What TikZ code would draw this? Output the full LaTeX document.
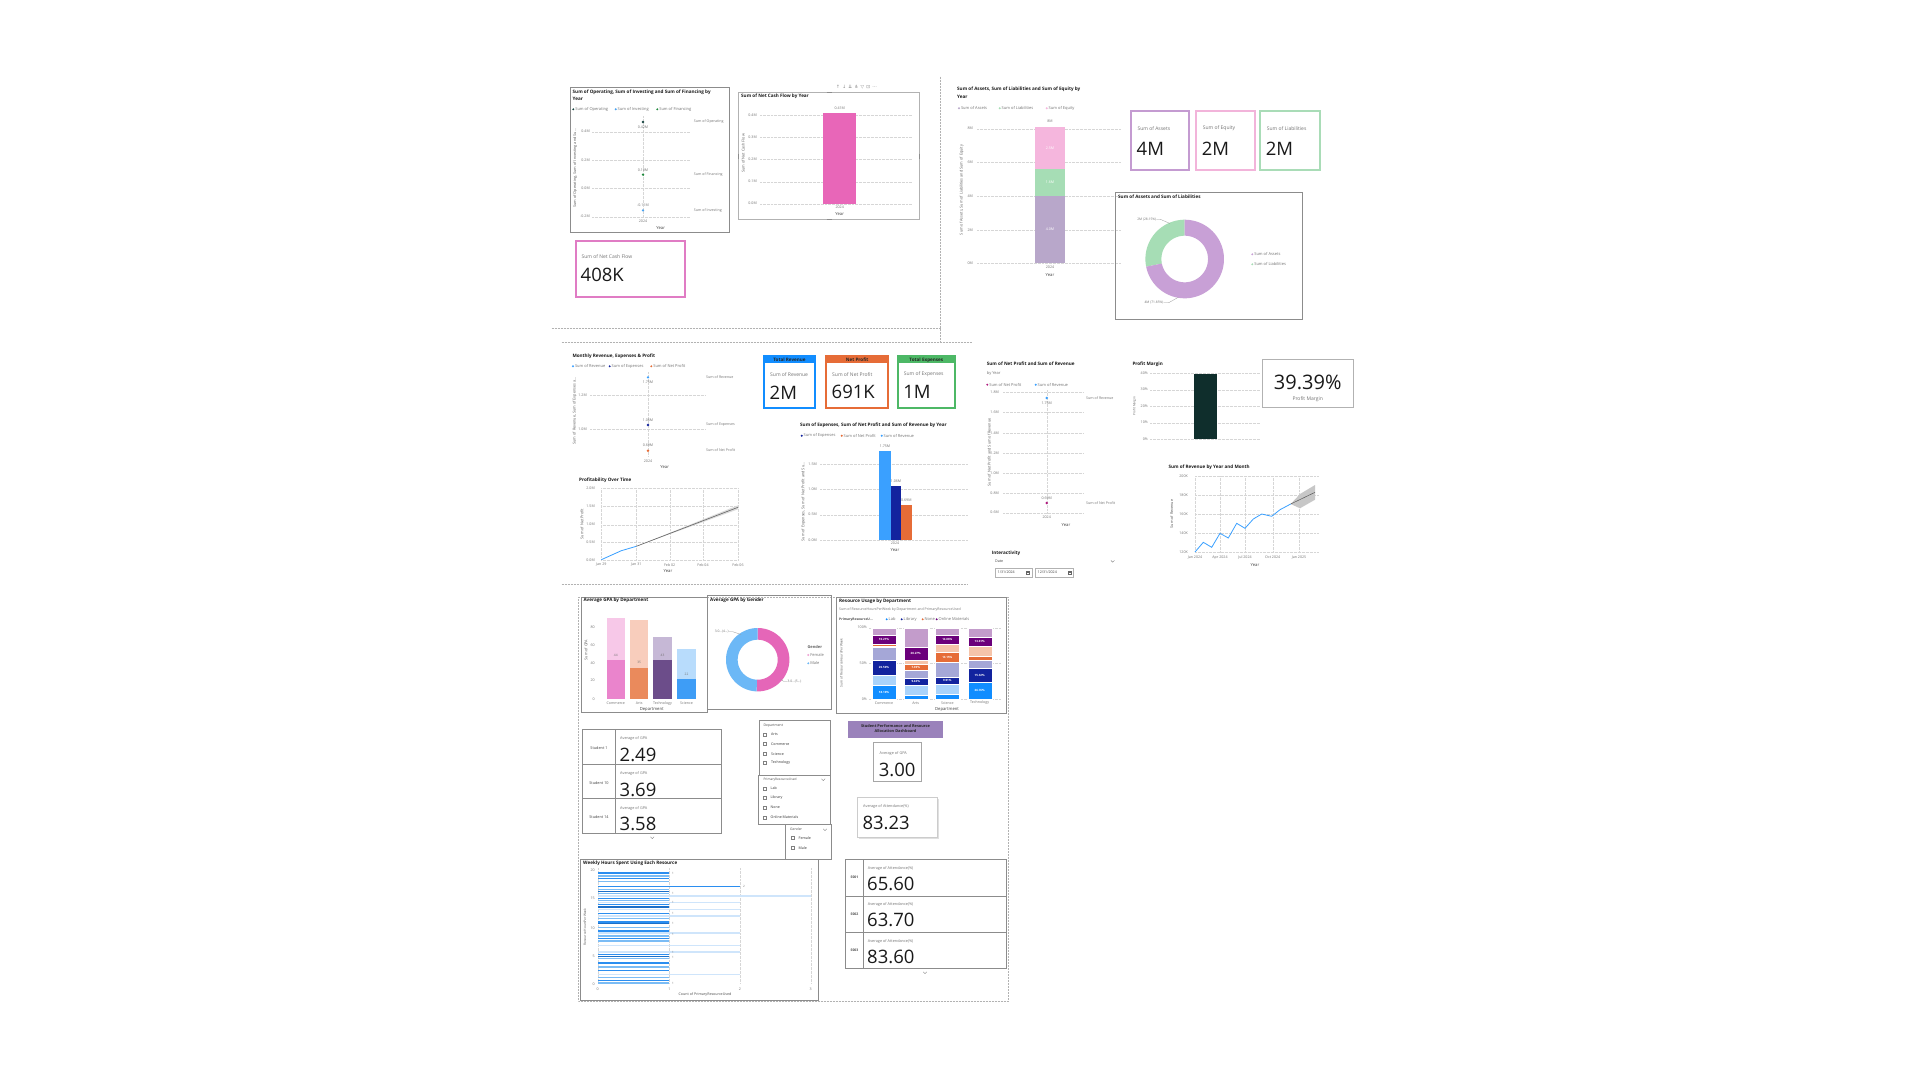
\documentclass[tikz,border=0pt]{standalone}
\usepackage{fontspec}
\setmainfont{Open Sans}
\newfontfamily\symfont{DejaVu Sans}
\usetikzlibrary{positioning}
\definecolor{opcol}{HTML}{17443F}
\definecolor{invcol}{HTML}{4AA3F0}
\definecolor{fincol}{HTML}{1E8A3C}
\definecolor{ncf}{HTML}{E866B8}
\definecolor{pinkcard}{HTML}{E07CC4}
\definecolor{assets}{HTML}{B8A7CA}
\definecolor{liab}{HTML}{A6DDB5}
\definecolor{equity}{HTML}{F5B6DD}
\definecolor{asscard}{HTML}{C49BD1}
\definecolor{eqcard}{HTML}{F2B4DA}
\definecolor{liabcard}{HTML}{A9DCB7}
\definecolor{donutA}{HTML}{C8A0D6}
\definecolor{rev}{HTML}{3AA0FF}
\definecolor{blu}{HTML}{118DFF}
\definecolor{lblu}{HTML}{A9D3FB}
\definecolor{nav}{HTML}{12239E}
\definecolor{lav}{HTML}{A5A7D7}
\definecolor{org}{HTML}{E66C37}
\definecolor{lorg}{HTML}{F5C4AA}
\definecolor{pur}{HTML}{6B007B}
\definecolor{lpur}{HTML}{C39CCB}
\definecolor{grn}{HTML}{4DB866}
\definecolor{npmag}{HTML}{B0197E}
\definecolor{pm}{HTML}{0F2E2C}
\definecolor{comL}{HTML}{F7C8E8}
\definecolor{comD}{HTML}{EA84CC}
\definecolor{artL}{HTML}{F8CDBC}
\definecolor{artD}{HTML}{EA8A5C}
\definecolor{tecL}{HTML}{C6B8D6}
\definecolor{tecD}{HTML}{6C4D8A}
\definecolor{sciL}{HTML}{B8DCFC}
\definecolor{sciD}{HTML}{3E9DF6}
\definecolor{female}{HTML}{E566B8}
\definecolor{male}{HTML}{6CB8F6}
\definecolor{banner}{HTML}{9A82BB}
\definecolor{wa}{HTML}{2B8EF0}
\definecolor{wb}{HTML}{7BBCF5}
\definecolor{wc}{HTML}{CFE5FB}
\definecolor{wd}{HTML}{1A6FC9}
\newcommand\fs[1]{\fontsize{#1}{#1}\selectfont}
\tikzset{
  ttl/.style={anchor=west, inner sep=0, font=\fs{4.6}\bfseries, text=black!90},
  txt/.style={inner sep=0, font=\fs{3.6}, text=black!55},
  tck/.style={txt, anchor=east},
  ytl/.style={txt, rotate=90, font=\fs{3.8}, text=black!65},
  xlab/.style={inner sep=0, font=\fs{4.2}, text=black!75},
  lab/.style={anchor=west, inner sep=0, font=\fs{5}, text=black!55},
  val/.style={anchor=west, inner sep=0, font=\fs{18.5}, text=black!90},
  wlab/.style={inner sep=0, font=\fs{2.9}\bfseries, text=white},
  gridln/.style={black!16, densely dotted, line width=0.35},
  pane/.style={draw=black!45, line width=0.7},
  sep/.style={black!30, densely dotted, line width=0.5},
  chk/.style={draw=black!50, line width=0.35},
}
\newcommand\lgd[5]{\fill[#4] (#2,#3) circle (1.1);
  \node[txt, anchor=west, font=\fs{4}] (#1) at (#2+1.8,#3) {#5};}
\newcommand\chev[2]{\draw[black!50, line width=0.4] (#1-1.8,#2-0.9) -- (#1,#2+0.9) -- (#1+1.8,#2-0.9);}
\begin{document}
\begin{tikzpicture}[x=1pt,y=-1pt]
\fill[white] (0,0) rectangle (1920,1080);
\useasboundingbox (0,0) rectangle (1920,1080);

\draw[sep] (551.7,328.3) -- (940.7,328.3);
\draw[sep] (940.7,76.7) -- (940.7,342.3);
\draw[sep] (561.7,342.3) -- (972,342.3);
\draw[sep] (561.7,584.3) -- (968,584.3);
\draw[sep] (578,597.3) rectangle (1008,1001.3);

% cash flow by activity
\draw[pane] (570.3,87.3) rectangle (729.7,232.7);
\node[ttl] (opsT) at (572.5,92.7) {Sum of Operating, Sum of Investing and Sum of Financing by};
\node[ttl] (opsT2) at (572.5,98.7) {Year};
\lgd{opsG1}{573.3}{109.3}{opcol}{Sum of Operating}
\lgd{opsG2}{615.7}{109.3}{invcol}{Sum of Investing}
\lgd{opsG3}{657.3}{109.3}{fincol}{Sum of Financing}
\foreach \v/\y [count=\i] in {0.4M/131.7,0.2M/160,0.0M/188.3,-0.2M/216.7}{
  \node[tck] (opsY\i) at (590,\y) {\v};
  \draw[gridln] (592,\y) -- (690,\y);}
\draw[gridln] (643,116) -- (643,218);
\fill[opcol] (643,122) circle (1.3);
\fill[fincol] (643,174.7) circle (1.3);
\fill[invcol] (643,210.3) circle (1.3);
\node[txt] (opsV1) at (643,127.3) {0.42M};
\node[txt] (opsV2) at (643,170) {0.10M};
\node[txt] (opsV3) at (643,205.3) {-0.11M};
\node[txt,anchor=west] (opsR1) at (693.7,122) {Sum of Operating};
\node[txt,anchor=west] (opsR2) at (693.7,174.7) {Sum of Financing};
\node[txt,anchor=west] (opsR3) at (693.7,210.3) {Sum of Investing};
\node[txt] (opsX) at (643,221.3) {2024};
\node[xlab] (opsXT) at (660.7,227.7) {Year};
\node[ytl] (opsA) at (575,168.3) {Sum of Operating, Sum of Investing and Su...};

% net cash flow
\draw[draw=black!30, line width=0.6] (738.7,92.7) rectangle (919.7,219.3);
\foreach \p/\q [count=\i] in {738.7/156,919.7/156}{
  \draw[black!45, line width=1.2] (\p,\q-2.5) -- (\p,\q+2.5);}
\foreach \p/\q [count=\i] in {829/92.7,829/219.3}{
  \draw[black!45, line width=1.2] (\p-2.5,\q) -- (\p+2.5,\q);}
\node[inner sep=0, font=\symfont\fs{4.6}, text=black!45, anchor=west] (ncfI) at (836,86.7) {↑\, ↓\, ⇊\, ⋔\enspace ▽\, ⊡\, ⋯};
\node[ttl] (ncfT) at (741,96.3) {Sum of Net Cash Flow by Year};
\foreach \v/\y [count=\i] in {0.4M/115,0.3M/137,0.2M/159.3,0.1M/181.7,0.0M/203.7}{
  \node[tck] (ncfY\i) at (757,\y) {\v};
  \draw[gridln] (760,\y) -- (912,\y);}
\fill[ncf] (823,113.3) rectangle (856.3,203.7);
\node[txt] (ncfV) at (839.7,108.7) {0.41M};
\node[txt] (ncfX) at (839.7,207.7) {2024};
\node[xlab] (ncfXT) at (839.7,214.3) {Year};
\node[ytl] (ncfA) at (743.3,153.3) {Sum of Net Cash Flow};

\draw[pinkcard, line width=1.8] (575.7,240.7) rectangle (685.3,296.7);
\node[lab] (ncfCL) at (581.3,257) {Sum of Net Cash Flow};
\node[val] (ncfCV) at (580.5,275) {408K};

% balance sheet
\node[ttl] (balT) at (957,89.3) {Sum of Assets, Sum of Liabilities and Sum of Equity by};
\node[ttl] (balT2) at (957,96.7) {Year};
\lgd{balG1}{959}{108.3}{assets}{Sum of Assets}
\lgd{balG2}{999.7}{108.3}{liab}{Sum of Liabilities}
\lgd{balG3}{1046.7}{108.3}{equity}{Sum of Equity}
\foreach \v/\y [count=\i] in {8M/128.7,6M/162.3,4M/196,2M/229.7,0M/263}{
  \node[tck] (balY\i) at (973,\y) {\v};
  \draw[gridln] (977,\y) -- (1121,\y);}
\fill[assets] (1035,196) rectangle (1065,263);
\fill[liab] (1035,168.7) rectangle (1065,196);
\fill[equity] (1035,127.3) rectangle (1065,168.7);
\node[txt,text=white] (balV1) at (1050,229.3) {4.0M};
\node[txt,text=white] (balV2) at (1050,182.3) {1.6M};
\node[txt,text=white] (balV3) at (1050,148) {2.5M};
\node[txt] (balV0) at (1050,121.7) {8M};
\node[txt] (balX) at (1050,267.7) {2024};
\node[xlab] (balXT) at (1050,274.7) {Year};
\node[ytl] (balA) at (961.7,190) {Sum of Assets, Sum of Liabilities and Sum of Equity};

\draw[asscard, line width=1.8] (1130.7,111) rectangle (1189,170);
\draw[eqcard, line width=1.8] (1195.7,111) rectangle (1255,170);
\draw[liabcard, line width=1.8] (1259.7,111) rectangle (1320,170);
\node[lab] (assL) at (1137.3,128.3) {Sum of Assets};
\node[lab] (eqL) at (1202.7,128.3) {Sum of Equity};
\node[lab] (liL) at (1266.7,128.3) {Sum of Liabilities};
\node[val] (assV) at (1136.5,148.5) {4M};
\node[val] (eqV) at (1201.7,148.5) {2M};
\node[val] (liV) at (1265.7,148.5) {2M};

\draw[pane] (1115.7,192.3) rectangle (1302.3,319);
\node[ttl] (dnT) at (1118,196.7) {Sum of Assets and Sum of Liabilities};
\begin{scope}[shift={(1184.7,259)}]
  \fill[liab] plot[domain=-90:-191.3,samples=40] (\x:39.3) -- plot[domain=-191.3:-90,samples=40] (\x:23.3) -- cycle;
  \fill[donutA] plot[domain=-191.3:-450,samples=80] (\x:39.3) -- plot[domain=-450:-191.3,samples=80] (\x:23.3) -- cycle;
\end{scope}
\node[txt,font=\fs{3.3}] (dnL1) at (1146.7,219.3) {2M (28.15\%)};
\draw[black!40, line width=0.3] (dnL1.east) -- ++(4,0) -- (1170,223.5);
\node[txt,font=\fs{3.3}] (dnL2) at (1154,302.7) {4M (71.85\%)};
\draw[black!40, line width=0.3] (dnL2.east) -- ++(5,0) -- (1178,297.5);
\lgd{dnG1}{1252.3}{254.3}{donutA}{Sum of Assets}
\lgd{dnG2}{1252.3}{264.3}{liab}{Sum of Liabilities}

% monthly revenue, expenses, profit
\node[ttl] (mT) at (572.3,356.3) {Monthly Revenue, Expenses \& Profit};
\lgd{mG1}{573}{366.3}{rev}{Sum of Revenue}
\lgd{mG2}{609.7}{366.3}{nav}{Sum of Expenses}
\lgd{mG3}{651.3}{366.3}{org}{Sum of Net Profit}
\foreach \v/\y [count=\i] in {1.2M/395,1.0M/429}{
  \node[tck] (mY\i) at (587,\y) {\v};
  \draw[gridln] (590,\y) -- (705,\y);}
\draw[gridln] (648,372) -- (648,456);
\fill[rev] (648,377.3) circle (1.3);
\fill[nav] (648,425) circle (1.3);
\fill[org] (648,450.7) circle (1.3);
\node[txt] (mV1) at (648,382) {1.75M};
\node[txt] (mV2) at (648,420) {1.06M};
\node[txt] (mV3) at (648,445.7) {0.69M};
\node[txt,anchor=west] (mR1) at (706,377.3) {Sum of Revenue};
\node[txt,anchor=west] (mR2) at (706,425) {Sum of Expenses};
\node[txt,anchor=west] (mR3) at (706,449.7) {Sum of Net Profit};
\node[txt] (mX) at (648,461) {2024};
\node[xlab] (mXT) at (664.7,466.7) {Year};
\node[ytl] (mA) at (574.7,411) {Sum of Revenue, Sum of Expenses a...};

\node[ttl] (pT) at (579,480.7) {Profitability Over Time};
\foreach \v/\y [count=\i] in {2.0M/488.3,1.5M/506.3,1.0M/524.7,0.5M/542.3,0.0M/560.3}{
  \node[tck] (pY\i) at (595,\y) {\v};
  \draw[gridln] (601.3,\y) -- (738,\y);}
\foreach \d/\x [count=\i] in {Jan 29/601.3,Jan 31/636.3,Feb 02/669.7,Feb 04/703,Feb 06/738}{
  \draw[gridln] (\x,488.3) -- (\x,560.3);
  \node[txt] (pX\i) at (\x,565) {\d};}
\fill[black!15] (636.3,546.3) -- (738,505.3) -- (738,509.3) -- cycle;
\draw[black!60, line width=0.6] (636.3,546.3) -- (738,507.3);
\draw[rev, line width=0.8] (601.3,559.7) -- (621.3,550.7) -- (636.3,546.3);
\node[xlab] (pXT) at (668,570.7) {Year};
\node[ytl] (pA) at (582,524) {Sum of Net Profit};

% kpi cards
\foreach \a/\b/\c/\h/\l/\v [count=\i] in {764/815/blu/Total Revenue/Sum of Revenue/2M,
  826/888.3/org/Net Profit/Sum of Net Profit/691K,897.7/955/grn/Total Expenses/Sum of Expenses/1M}{
  \fill[\c] (\a,356.3) rectangle (\b,363);
  \draw[\c, line width=1.8] (\a,356.3) rectangle (\b,408.3);
  \node[inner sep=0, font=\fs{4.6}\bfseries, text=black!85] (kH\i) at ({(\a+\b)/2},359.9) {\h};
  \node[lab] (kL\i) at (\a+6,374.3) {\l};
  \node[val] (kV\i) at (\a+5.5,392.3) {\v};}

\node[ttl] (bT) at (800,425.7) {Sum of Expenses, Sum of Net Profit and Sum of Revenue by Year};
\lgd{bG1}{801.7}{435.7}{nav}{Sum of Expenses}
\lgd{bG2}{841.7}{435.7}{org}{Sum of Net Profit}
\lgd{bG3}{881.7}{435.7}{rev}{Sum of Revenue}
\foreach \v/\y [count=\i] in {1.5M/464,1.0M/489.3,0.5M/514.7,0.0M/540}{
  \node[tck] (bY\i) at (817,\y) {\v};
  \draw[gridln] (820,\y) -- (968,\y);}
\fill[rev] (879.3,451.3) rectangle (890.7,540);
\fill[nav] (890.7,486) rectangle (901,540);
\fill[org] (901,505) rectangle (911.7,540);
\node[txt] (bV1) at (885,446.7) {1.75M};
\node[txt] (bV2) at (896,481.3) {1.06M};
\node[txt] (bV3) at (906.3,500.3) {0.69M};
\node[txt] (bX) at (895,543.3) {2024};
\node[xlab] (bXT) at (895,550) {Year};
\node[ytl] (bA) at (803.3,502) {Sum of Expenses, Sum of Net Profit and Su...};

% net profit and revenue
\node[ttl] (nT) at (986.7,364) {Sum of Net Profit and Sum of Revenue};
\node[txt,anchor=west,font=\fs{4}] (nT2) at (986.7,373) {by Year};
\lgd{nG1}{987.3}{384.7}{npmag}{Sum of Net Profit}
\lgd{nG2}{1035.7}{384.7}{rev}{Sum of Revenue}
\foreach \v/\y [count=\i] in {1.8M/392.3,1.6M/412.3,1.4M/433,1.2M/453,1.0M/473,0.8M/493,0.6M/512.7}{
  \node[tck] (nY\i) at (999,\y) {\v};
  \draw[gridln] (1003,\y) -- (1083,\y);}
\draw[gridln] (1046.7,390) -- (1046.7,514);
\fill[rev] (1046.7,398) circle (1.3);
\fill[npmag] (1046.7,503) circle (1.3);
\node[txt] (nV1) at (1046.7,403) {1.75M};
\node[txt] (nV2) at (1046.7,498) {0.69M};
\node[txt,anchor=west] (nR1) at (1086,398) {Sum of Revenue};
\node[txt,anchor=west] (nR2) at (1086,503) {Sum of Net Profit};
\node[txt] (nX) at (1046.7,517.3) {2024};
\node[xlab] (nXT) at (1066,524.7) {Year};
\node[ytl] (nA) at (989.3,452.3) {Sum of Net Profit and Sum of Revenue};

\node[ttl] (iT) at (991.7,553.3) {Interactivity};
\node[txt,anchor=west,text=black!75] (iD) at (995,561.3) {Date};
\chev{1112.7}{561.3}
\draw[black!30, line width=0.4] (995,568) rectangle (1031.7,577.3);
\draw[black!30, line width=0.4] (1035,568) rectangle (1073.3,577.3);
\node[txt,anchor=west,text=black!75] (iD1) at (997.5,572.7) {1/31/2024};
\node[txt,anchor=west,text=black!75] (iD2) at (1037.5,572.7) {12/31/2024};
\foreach \x [count=\i] in {1026.5,1068}{
  \draw[black!60, line width=0.4] (\x,571.2) rectangle (\x+3,574.2);
  \draw[black!60, line width=0.3] (\x,572.2) -- (\x+3,572.2);}

% profit margin
\node[ttl] (pmT) at (1132.3,364) {Profit Margin};
\foreach \v/\y [count=\i] in {40\%/373,30\%/389.7,20\%/406,10\%/422.7,0\%/439.3}{
  \node[tck] (pmY\i) at (1148,\y) {\v};
  \draw[gridln] (1150,\y) -- (1260,\y);}
\fill[pm] (1194,374) rectangle (1216.7,439.3);
\node[ytl,font=\fs{3}] (pmA) at (1134.5,406) {Profit Margin};

\draw[black!30, line width=1.4] (1262.3,359.7) rectangle (1353.3,407.3);
\node[inner sep=0, font=\fs{20}, text=black!90] (pmV) at (1307.7,382.3) {39.39\%};
\node[inner sep=0, font=\fs{5}, text=black!55] (pmL) at (1307.7,399) {Profit Margin};

% revenue by month
\node[ttl] (rT) at (1168.3,467.3) {Sum of Revenue by Year and Month};
\foreach \v/\y [count=\i] in {200K/476.3,180K/495,160K/514,140K/533,120K/552}{
  \node[tck] (rY\i) at (1188,\y) {\v};
  \draw[gridln] (1195,\y) -- (1318,\y);}
\foreach \d/\x [count=\i] in {Jan 2024/1195,Apr 2024/1220,Jul 2024/1245,Oct 2024/1272.7,Jan 2025/1299}{
  \draw[gridln] (\x,476.3) -- (\x,552);
  \node[txt] (rX\i) at (\x,557.3) {\d};}
\fill[black!22] (1290.7,504) -- (1300,494) -- (1315,485) -- (1315,499.7) -- (1300,508.3) -- cycle;
\draw[black!65, line width=0.5] (1290.7,504) -- (1315,492.3);
\draw[rev, line width=0.8] (1195,552) -- (1203.3,542.3) -- (1211.7,547.3) -- (1220,533.3) -- (1228.3,538)
  -- (1236.7,523.3) -- (1245,528.3) -- (1253.3,519) -- (1261.7,514) -- (1271.7,516.3) -- (1280,509.7) -- (1290.7,504);
\node[xlab] (rXT) at (1255,565) {Year};
\node[ytl] (rA) at (1171.7,514) {Sum of Revenue};

% gpa by department
\draw[pane] (581,597.3) rectangle (707.7,712.3);
\node[ttl] (gT) at (583.3,600.7) {Average GPA by Department};
\foreach \v/\y [count=\i] in {80/627.3,60/645,40/663,20/680.7,0/699}{
  \node[tck] (gY\i) at (595,\y) {\v};}
\fill[comL] (606.7,618) rectangle (625,660);   \fill[comD] (606.7,660) rectangle (625,699);
\fill[artL] (630,620) rectangle (648.3,667.7);  \fill[artD] (630,667.7) rectangle (648.3,699);
\fill[tecL] (653.3,637) rectangle (671.7,660);  \fill[tecD] (653.3,660) rectangle (671.7,699);
\fill[sciL] (677.3,648.7) rectangle (695.7,679.3); \fill[sciD] (677.3,679.3) rectangle (695.7,699);
\foreach \x/\y/\n/\d [count=\i] in {615.8/655/44/Commerce,639.2/662.3/35/Arts,662.5/655/43/Technology,686.5/674.3/22/Science}{
  \node[txt,font=\fs{3.2}] (gV\i) at (\x,\y) {\n};
  \node[txt] (gX\i) at (\x,703.3) {\d};}
\node[xlab] (gXT) at (651.7,709) {Department};
\node[ytl] (gA) at (586,650) {Sum of GPA};

% gpa by gender
\draw[pane] (707.7,595.7) rectangle (831,709);
\node[ttl] (sT) at (710,600) {Average GPA by Gender};
\begin{scope}[shift={(757.7,659.7)}]
  \fill[female] plot[domain=-90:92,samples=60] (\x:31.7) -- plot[domain=92:-90,samples=60] (\x:20) -- cycle;
  \fill[male] plot[domain=-90:-268,samples=60] (\x:31.7) -- plot[domain=-268:-90,samples=60] (\x:20) -- cycle;
\end{scope}
\node[txt,font=\fs{3.3}] (sL1) at (721.7,631.7) {3.0...(4...)};
\draw[black!40, line width=0.3] (sL1.east) -- ++(4,0) -- (741,634.5);
\node[txt,font=\fs{3.3}] (sL2) at (794.5,681.3) {3.0...(5...)};
\draw[black!40, line width=0.3] (sL2.west) -- ++(-4,0) -- (780.5,679);
\node[inner sep=0, anchor=west, font=\fs{4}\bfseries, text=black!60] (sG) at (807.3,647.3) {Gender};
\lgd{sG1}{808.3}{655}{female!60}{Female}
\lgd{sG2}{808.3}{663.3}{male}{Male}

% resource usage
\draw[pane] (836.7,597.3) rectangle (1006.7,713.3);
\node[ttl] (uT) at (839,601.3) {Resource Usage by Department};
\node[txt,anchor=west,font=\fs{3.5}] (uT2) at (839,609.7) {Sum of ResourceHoursPerWeek by Department and PrimaryResourceUsed};
\node[inner sep=0, anchor=west, font=\fs{3.3}\bfseries, text=black!70] (uG) at (839,619.3) {PrimaryResourceU...};
\lgd{uG1}{886.7}{619.3}{blu}{Lab}
\lgd{uG2}{901.7}{619.3}{nav}{Library}
\lgd{uG3}{922.7}{619.3}{org}{None}
\lgd{uG4}{936.7}{619.3}{pur}{Online Materials}
\foreach \v/\y [count=\i] in {100\%/627.7,50\%/663.2,0\%/698.7}{
  \node[tck] (uY\i) at (867,\y) {\v};
  \draw[gridln] (869,\y) -- (1000,\y);}
\foreach \x/\ya/\yb/\c in {
  872/627.7/635.3/lpur, 872/635.3/643.7/pur, 872/643.7/645.7/org, 872/645.7/647/lorg, 872/647/660.3/lav, 872/660.3/674.7/nav, 872/674.7/685.3/lblu, 872/685.3/698.7/blu,
  903.7/627.7/647/lpur, 903.7/647/660.3/pur, 903.7/660.3/663.7/lorg, 903.7/663.7/670.3/org, 903.7/670.3/678/lav, 903.7/678/685.3/nav, 903.7/685.3/694.7/lblu, 903.7/694.7/698.7/blu,
  935.3/627.7/635.3/lpur, 935.3/635.3/643.7/pur, 935.3/643.7/652/lorg, 935.3/652/662/org, 935.3/662/677/lav, 935.3/677/684.3/nav, 935.3/684.3/694.3/lblu, 935.3/694.3/698.7/blu,
  967.7/627.7/637/lpur, 967.7/637/646.3/pur, 967.7/646.3/656.3/lorg, 967.7/656.3/660.3/org, 967.7/660.3/668/lav, 967.7/668/682/nav, 967.7/682/698.7/blu}{
  \fill[\c, draw=white, line width=0.25] (\x,\ya) rectangle (\x+24,\yb);}
\foreach \x/\y/\p [count=\i] in {884/639.5/10.21\%,884/667.5/20.50\%,884/692/18.10\%,
  915.7/653.7/20.27\%,915.7/667/7.39\%,915.7/681.7/9.42\%,
  947.3/639.5/14.86\%,947.3/657/13.15\%,947.3/680.7/9.91\%,
  979.7/641.7/13.61\%,979.7/675/15.32\%,979.7/690.3/26.76\%}{
  \node[wlab] (uV\i) at (\x,\y) {\p};}
\foreach \x/\d [count=\i] in {884/Commerce,915.7/Arts,947.3/Science,979.7/Technology}{
  \node[txt] (uX\i) at (\x,703) {\d};}
\node[xlab] (uXT) at (947,709.7) {Department};
\node[ytl,font=\fs{3.3}] (uA) at (841.3,663) {Sum of ResourceHoursPerWeek};

% student gpa table
\draw[pane] (582.3,729.3) rectangle (721.7,833.3);
\draw[black!45, line width=0.6] (615.7,729.3) -- (615.7,833.3);
\draw[black!45, line width=0.6] (582.3,764.3) -- (721.7,764.3);
\draw[black!45, line width=0.6] (582.3,798.7) -- (721.7,798.7);
\foreach \s/\v/\y [count=\i] in {Student 1/2.49/729.3,Student 10/3.69/764.3,Student 14/3.58/798.7}{
  \node[inner sep=0, font=\fs{3.8}, text=black!75] (tS\i) at (599,\y+18.3) {\s};
  \node[lab,font=\fs{3.8}] (tL\i) at (620,\y+9.3) {Average of GPA};
  \node[val] (tV\i) at (619.5,\y+25.7) {\v};}
\chev{652.3}{837.7}

% slicers
\draw[pane, line width=0.6] (759.3,720.3) rectangle (830.7,775.3);
\node[inner sep=0, anchor=west, font=\fs{3.4}, text=black!70] (dsH) at (763.5,725.7) {Department};
\foreach \t/\y [count=\i] in {Arts/734.3,Commerce/744,Science/753.7,Technology/763}{
  \draw[chk] (763.3,\y-1.5) rectangle +(3,3);
  \node[txt,anchor=west,text=black!80] (ds\i) at (771,\y) {\t};}
\draw[pane, line width=0.6] (758.3,775.3) rectangle (830.7,824.3);
\node[inner sep=0, anchor=west, font=\fs{3.2}, text=black!70] (rsH) at (763.3,779.7) {PrimaryResourceUsed};
\chev{823.3}{779.7}
\foreach \t/\y [count=\i] in {Lab/788.3,Library/798,None/807.7,Online Materials/817.3}{
  \draw[chk] (763.3,\y-1.5) rectangle +(3,3);
  \node[txt,anchor=west,text=black!80] (rs\i) at (770.5,\y) {\t};}
\draw[pane, line width=0.6] (785,824.3) rectangle (831,859.3);
\node[inner sep=0, anchor=west, font=\fs{3.4}, text=black!70] (gsH) at (790,829.7) {Gender};
\chev{825}{829.7}
\foreach \t/\y [count=\i] in {Female/838,Male/847.7}{
  \draw[chk] (791.3,\y-1.5) rectangle +(3,3);
  \node[txt,anchor=west,text=black!80] (gs\i) at (798.5,\y) {\t};}

% title banner and cards
\fill[banner] (848.3,721) rectangle (942.7,737.7);
\node[inner sep=0, font=\fs{3.9}\bfseries, text=black!85, align=center] (bnT) at (895.5,728.5)
  {Student Performance and Resource\\[0.4pt]Allocation Dashboard};
\draw[black!35, line width=0.8] (873.7,742.7) rectangle (921.7,781);
\node[lab,font=\fs{3.8}] (cgL) at (879.5,753.7) {Average of GPA};
\node[val] (cgV) at (878.7,769.5) {3.00};
\fill[black!12] (859.2,798.5) rectangle (939.2,839.2);
\filldraw[fill=white, draw=black!20, line width=0.5] (857.7,797) rectangle (937.7,837.7);
\node[lab,font=\fs{3.8}] (caL) at (863,806) {Average of Attendance(\%)};
\node[val] (caV) at (862.3,823) {83.23};

% weekly hours
\draw[pane] (580.7,859.7) rectangle (818.3,1000.3);
\node[ttl] (wT) at (583,863) {Weekly Hours Spent Using Each Resource};
\foreach \v/\y [count=\i] in {20/870.3,15/898.7,10/927.7,5/956,0/984}{
  \node[tck] (wY\i) at (595,\y) {\v};}
\foreach \v/\x [count=\i] in {0/597.7,1/669.3,2/740,3/810.7}{
  \draw[gridln] (\x,868) -- (\x,984);
  \node[txt] (wX\i) at (\x,989.3) {\v};}
\foreach \y/\e/\c in {873/669.3/wa,876/669.3/wb,878.7/669.3/wa,881.3/669.3/wb,886.3/740/wa,889.3/669.3/wb,
  891.3/669.3/wd,893.7/669.3/wb,896/810.7/wc,898.7/669.3/wa,900.3/669.3/wb,902.7/740/wc,904.7/669.3/wa,
  907/669.3/wd,909.3/740/wc,913.7/669.3/wa,916/740/wc,918.7/669.3/wb,922/669.3/wa,923.7/669.3/wd,
  927.7/669.3/wb,931/669.3/wa,933/740/wc,936/669.3/wb,938.7/669.3/wa,941/669.3/wb,945.3/740/wc,952/740/wc,
  954.3/669.3/wa,956.3/669.3/wd,958.7/669.3/wb,963/669.3/wa,967/669.3/wb,970.3/669.3/wa,974.3/740/wc,
  977.7/669.3/wb,980.3/669.3/wa,983/669.3/wb}{
  \fill[\c] (597.7,\y-0.65) rectangle (\e,\y+0.65);}
\foreach \x/\y/\n [count=\i] in {672/873/1,743/886.3/2,672/893.7/1,672/902.7/1,672/913.7/1,
  672/923.7/1,672/934.3/1,672/952.7/1,672/957.7/1,672/983/1}{
  \node[txt,font=\fs{3},anchor=west] (wV\i) at (\x,\y) {\n};}
\node[txt,text=black!70] (wXT) at (705,994.7) {Count of PrimaryResourceUsed};
\node[ytl,font=\fs{3.3}] (wA) at (585,927) {ResourceHoursPerWeek};

% attendance table
\draw[pane] (845.7,859.7) rectangle (1006.7,968.7);
\draw[black!45, line width=0.6] (863.3,859.7) -- (863.3,968.7);
\draw[black!45, line width=0.6] (845.7,896) -- (1006.7,896);
\draw[black!45, line width=0.6] (845.7,932.7) -- (1006.7,932.7);
\foreach \s/\v/\y [count=\i] in {S001/65.60/859.7,S002/63.70/896,S003/83.60/932.7}{
  \node[inner sep=0, font=\fs{3.4}\bfseries, text=black!70] (aS\i) at (854.5,\y+18) {\s};
  \node[lab,font=\fs{3.8}] (aL\i) at (867.7,\y+8.3) {Average of Attendance(\%)};
  \node[val] (aV\i) at (867,\y+24.3) {\v};}
\chev{925}{972.7}
\end{tikzpicture}
\end{document}
